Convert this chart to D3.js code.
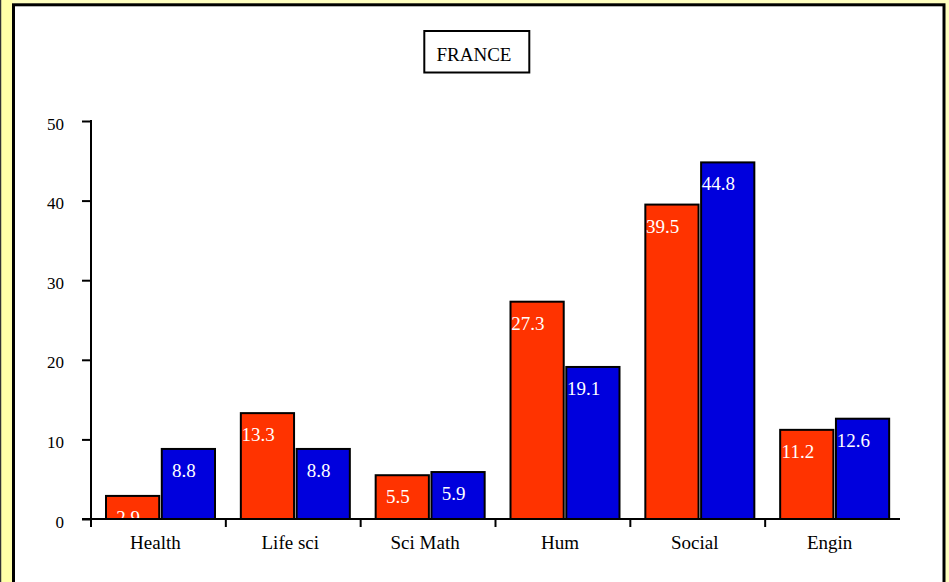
<!DOCTYPE html>
<html><head><meta charset="utf-8">
<script src="https://cdn.jsdelivr.net/npm/d3@7"></script>
<style>
html,body{margin:0;padding:0;background:#ffffc0;overflow:hidden;}
svg{display:block;}
text{font-family:"Liberation Serif","Times New Roman",serif;}
</style></head>
<body>
<script>
const title = "FRANCE";
const categories = ["Health","Life sci","Sci Math","Hum","Social","Engin"];
const series = ["A","B"];
const seriesA = [2.9, 13.3, 5.5, 27.3, 39.5, 11.2];
const seriesB = [8.8, 8.8, 5.9, 19.1, 44.8, 12.6];
const yTicks = [0, 10, 20, 30, 40, 50];
const colors = ["#ff3300", "#0000dd"];

const W = 949, H = 582;
const svg = d3.select("body").append("svg").attr("width", W).attr("height", H);

svg.append("rect").attr("x",0).attr("y",0).attr("width",W).attr("height",H).attr("fill","#ffffc0");
svg.append("rect").attr("x",0).attr("y",0).attr("width",1.5).attr("height",H).attr("fill","#333");
svg.append("rect").attr("x",1.5).attr("y",0).attr("width",11).attr("height",H).attr("fill","#ffffa8");
// panel
svg.append("rect").attr("x",13.5).attr("y",4.8).attr("width",930.5).attr("height",640)
  .attr("fill","#fff").attr("stroke","#000").attr("stroke-width",3);

const x0 = d3.scaleBand().domain(categories).range([91, 900]).padding(0);
const x1 = d3.scaleBand().domain(series).range([14, 125]).paddingInner(0.01);
const y = d3.scaleLinear().domain([0, 50]).range([519, 121]);

// title box
svg.append("rect").attr("x",424.3).attr("y",31).attr("width",105).attr("height",41.5)
  .attr("fill","#fff").attr("stroke","#000").attr("stroke-width",2);
svg.append("text").attr("x",474).attr("y",60.7).attr("text-anchor","middle")
  .style("font-size","19px").attr("fill","#000").text(title);

// clip
svg.append("clipPath").attr("id","plotclip").append("rect")
  .attr("x",91).attr("y",100).attr("width",820).attr("height",419);

const data = categories.map((c,i)=>({cat:c, vals:[seriesA[i], seriesB[i]]}));

const g = svg.append("g");
const groups = g.selectAll("g.cat").data(data).join("g")
  .attr("transform", d => `translate(${x0(d.cat)},0)`);

groups.selectAll("rect").data(d => d.vals.map((v,j)=>({s:series[j], v, j}))).join("rect")
  .attr("x", d => x1(d.s) + 1)
  .attr("width", x1.bandwidth() - 2)
  .attr("y", d => y(d.v))
  .attr("height", d => y(0) - y(d.v))
  .attr("fill", d => colors[d.j])
  .attr("stroke", "#000").attr("stroke-width", 2);

const lg = svg.append("g").attr("clip-path","url(#plotclip)");
data.forEach(d => {
  d.vals.forEach((v,j) => {
    lg.append("text")
      .attr("x", x0(d.cat) + x1(series[j]) + 35)
      .attr("y", y(v) + 28)
      .attr("text-anchor","end")
      .style("font-size","19px")
      .attr("fill","#fff")
      .text(v.toFixed(1));
  });
});

// y axis
const yAxis = d3.axisLeft(y).tickValues(yTicks).tickSize(9).tickPadding(18).tickFormat(d3.format("d"));
const ya = svg.append("g").attr("transform","translate(91,0)").call(yAxis);
ya.select(".domain").remove();
ya.selectAll(".tick line").attr("stroke","#000").attr("stroke-width",2);
ya.selectAll(".tick text").style("font-size","17px").style("font-family","'Liberation Serif', serif")
  .attr("fill","#000").attr("x",-27).attr("dy",null).attr("y",8);
svg.append("line").attr("x1",91).attr("x2",91).attr("y1",120).attr("y2",527)
  .attr("stroke","#000").attr("stroke-width",2);

// x axis
const xAxis = d3.axisBottom(x0).tickSize(0).tickPadding(18);
const xa = svg.append("g").attr("transform","translate(0,519)").call(xAxis);
xa.select(".domain").remove();
xa.selectAll(".tick text").style("font-size","19px").style("font-family","'Liberation Serif', serif")
  .attr("fill","#000").attr("x",-3).attr("dy",null).attr("y",30);
svg.append("line").attr("x1",82).attr("x2",900).attr("y1",519).attr("y2",519)
  .attr("stroke","#000").attr("stroke-width",2);
svg.selectAll("line.ctick").data(categories.slice(1)).join("line").attr("class","ctick")
  .attr("x1", d => x0(d)).attr("x2", d => x0(d)).attr("y1",519).attr("y2",527)
  .attr("stroke","#000").attr("stroke-width",2);
</script>
</body></html>
